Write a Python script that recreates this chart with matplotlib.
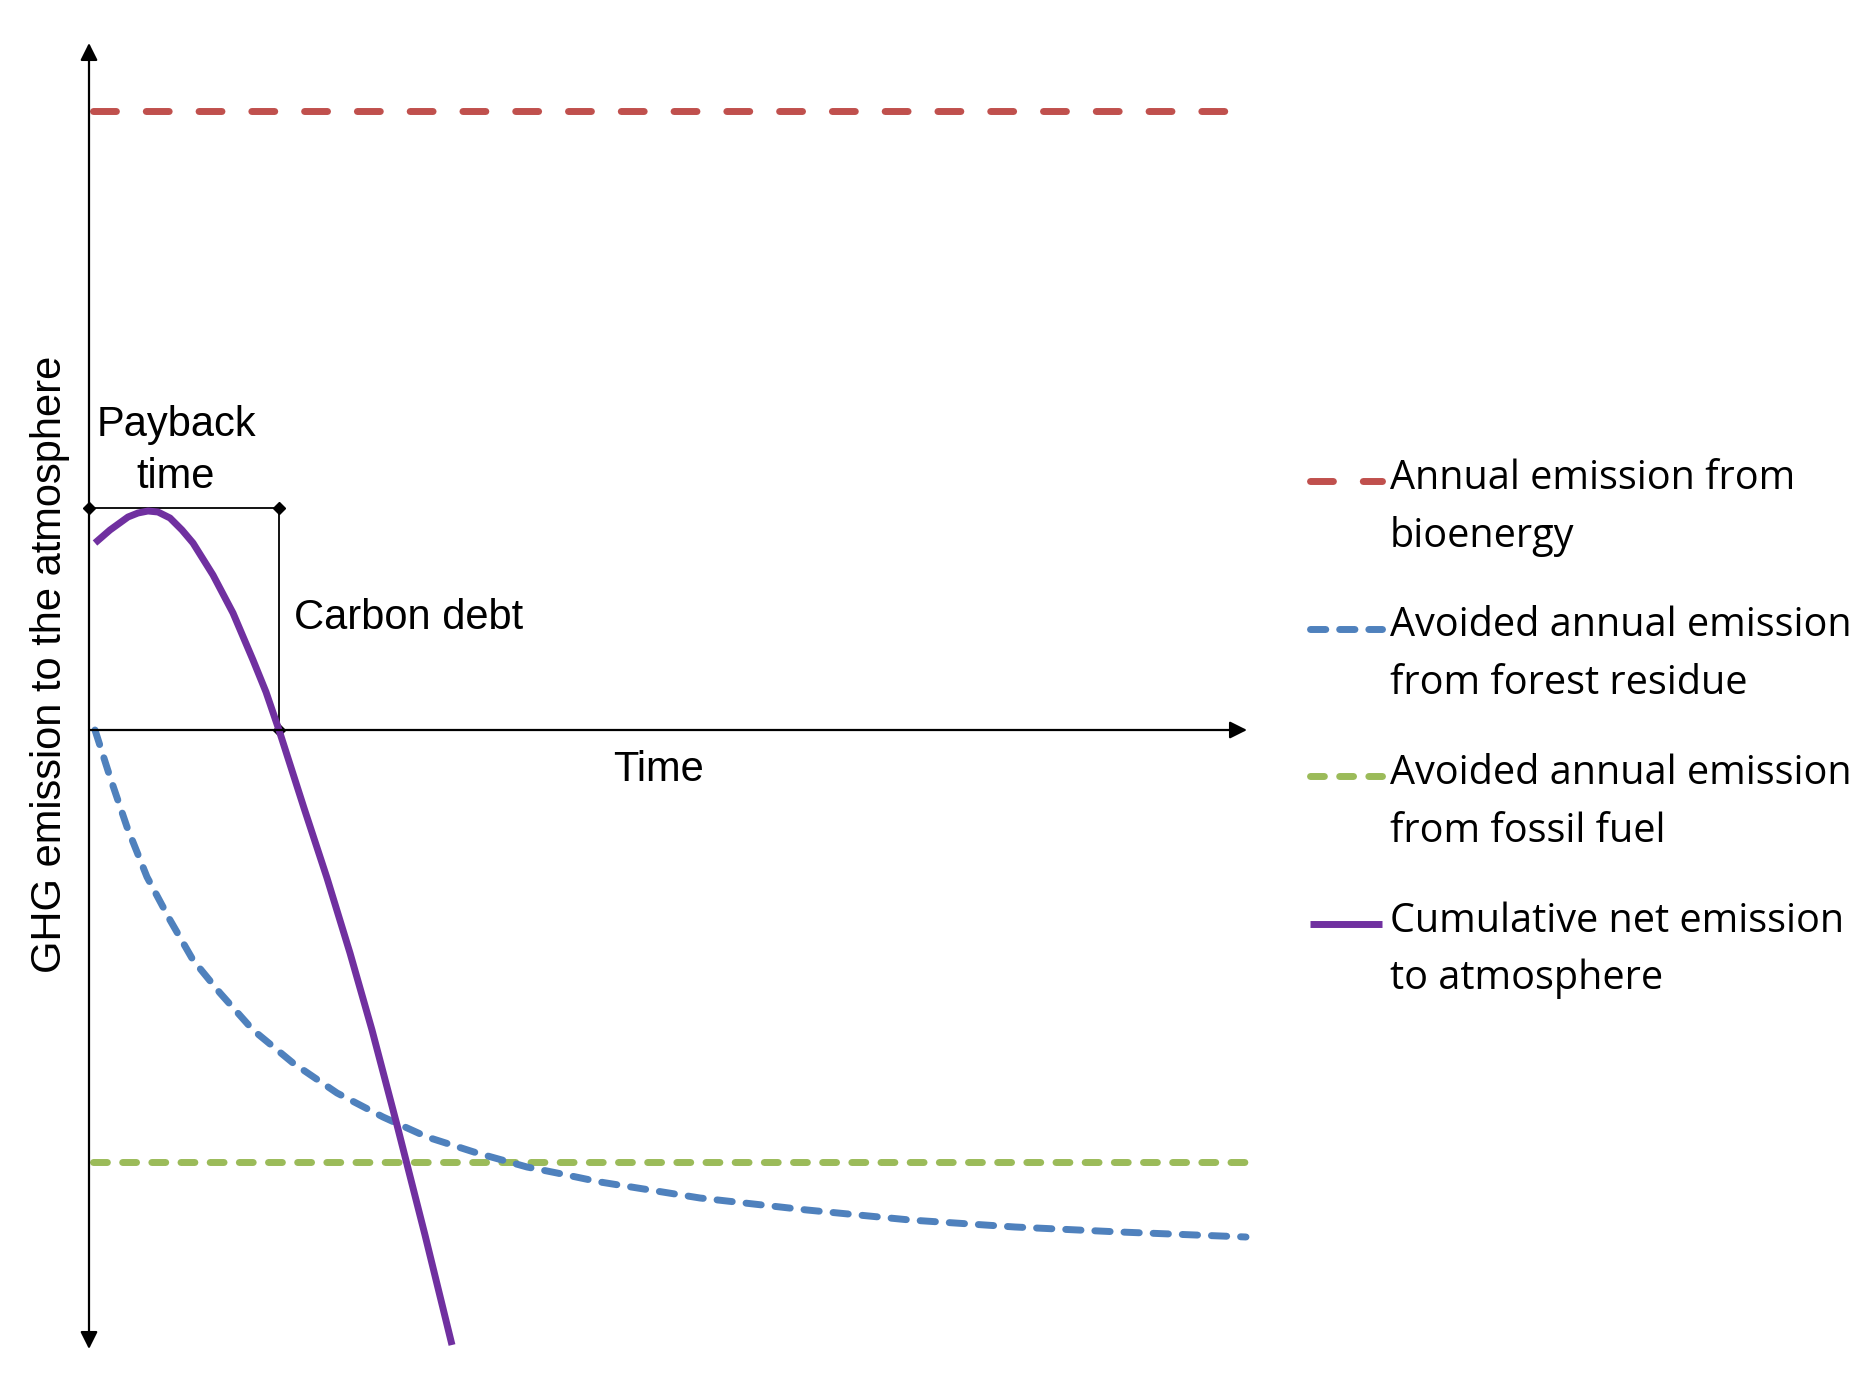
import numpy as np
import matplotlib.pyplot as plt

# values (time and emission in arbitrary units, x axis at 0)
purple_t = [0.06, 0.21, 0.39, 0.49, 0.59, 0.69, 0.81, 0.93, 1.04, 1.24, 1.44, 1.64, 1.77,
            1.90, 2.15, 2.38, 2.61, 2.83, 3.08, 3.36, 3.63]
purple_e = [1.87, 2.00, 2.13, 2.17, 2.19, 2.18, 2.12, 2.00, 1.87, 1.55, 1.17, 0.70, 0.38,
            0.00, -0.78, -1.48, -2.23, -3.00, -3.95, -5.05, -6.15]

blue_t = [0.06, 0.21, 0.38, 0.58, 0.81, 1.04, 1.31, 1.64, 2.04, 2.48, 2.94, 3.38, 3.88,
          4.38, 4.68, 5.11, 6.11, 7.18, 8.21, 9.26, 10.31, 11.57]
blue_e = [0.00, -0.47, -0.97, -1.47, -1.90, -2.30, -2.63, -3.00, -3.33, -3.63, -3.87, -4.07,
          -4.23, -4.37, -4.43, -4.52, -4.68, -4.80, -4.90, -4.97, -5.02, -5.07]

red_t = [0.04, 11.43]
red_e = [6.19, 6.19]

green_t = [0.04, 11.57]
green_e = [-4.32, -4.32]

payback_time = 1.90
carbon_debt = 2.22

labels = ['Annual emission from\nbioenergy',
          'Avoided annual emission\nfrom forest residue',
          'Avoided annual emission\nfrom fossil fuel',
          'Cumulative net emission\nto atmosphere']

RED = '#C0504D'
BLUE = '#4F81BD'
GREEN = '#9BBB59'
PURPLE = '#7030A0'
LW = 5

fig = plt.figure(figsize=(18.69, 13.89), dpi=100)
ax = fig.add_axes([0, 0, 1, 1])
ax.set_xlim(-0.89, 17.80)
ax.set_ylim(-6.59, 7.30)
ax.axis('off')

arrow = dict(color='black', lw=1.6, shrinkA=0, shrinkB=0, mutation_scale=26)
ax.annotate('', xy=(0, 6.87), xytext=(0, -6.19), arrowprops=dict(arrowstyle='<|-|>', **arrow))
ax.annotate('', xy=(11.58, 0), xytext=(0, 0), arrowprops=dict(arrowstyle='-|>', **arrow))

# payback / carbon debt box
ax.plot([0, payback_time, payback_time], [carbon_debt, carbon_debt, 0], color='black', lw=1.3)
ax.plot([0, payback_time, payback_time], [carbon_debt, carbon_debt, 0], 'D', color='black',
        markersize=6, linestyle='none')

red_style = dict(color=RED, lw=LW, dashes=(3.3, 4.3), dash_capstyle='round')
blue_style = dict(color=BLUE, lw=LW, dashes=(2.2, 2.0), dash_capstyle='round')
green_style = dict(color=GREEN, lw=LW, dashes=(2.0, 2.2), dash_capstyle='round')
purple_style = dict(color=PURPLE, lw=LW, solid_capstyle='butt', solid_joinstyle='round')

ax.plot(red_t, red_e, **red_style)
ax.plot(green_t, green_e, **green_style)
ax.plot(blue_t, blue_e, **blue_style)
ax.plot(purple_t, purple_e, **purple_style)

arial = 'Liberation Sans'
ax.text(-0.39, 0.66, 'GHG emission to the atmosphere', rotation=90, ha='center', va='center',
        fontsize=30, family=arial)
ax.text(0.87, 2.79, 'Payback\ntime', ha='center', va='center', fontsize=30, family=arial,
        linespacing=1.36)
ax.text(2.05, 1.12, 'Carbon debt', ha='left', va='center', fontsize=30, family=arial)
ax.text(5.70, -0.40, 'Time', ha='center', va='center', fontsize=30, family=arial)

# legend, drawn by hand so the sample sits beside the first line
styles = [red_style, blue_style, green_style, purple_style]
for i, (lab, st) in enumerate(zip(labels, styles)):
    y = 2.49 - 1.475 * i
    ax.plot([12.21, 12.93], [y, y], **st)
    ax.text(13.01, y - 0.13, lab, ha='left', va='center_baseline', fontsize=28.5,
            family='Open Sans', linespacing=1.56)

fig.savefig('out.png', dpi=100)
